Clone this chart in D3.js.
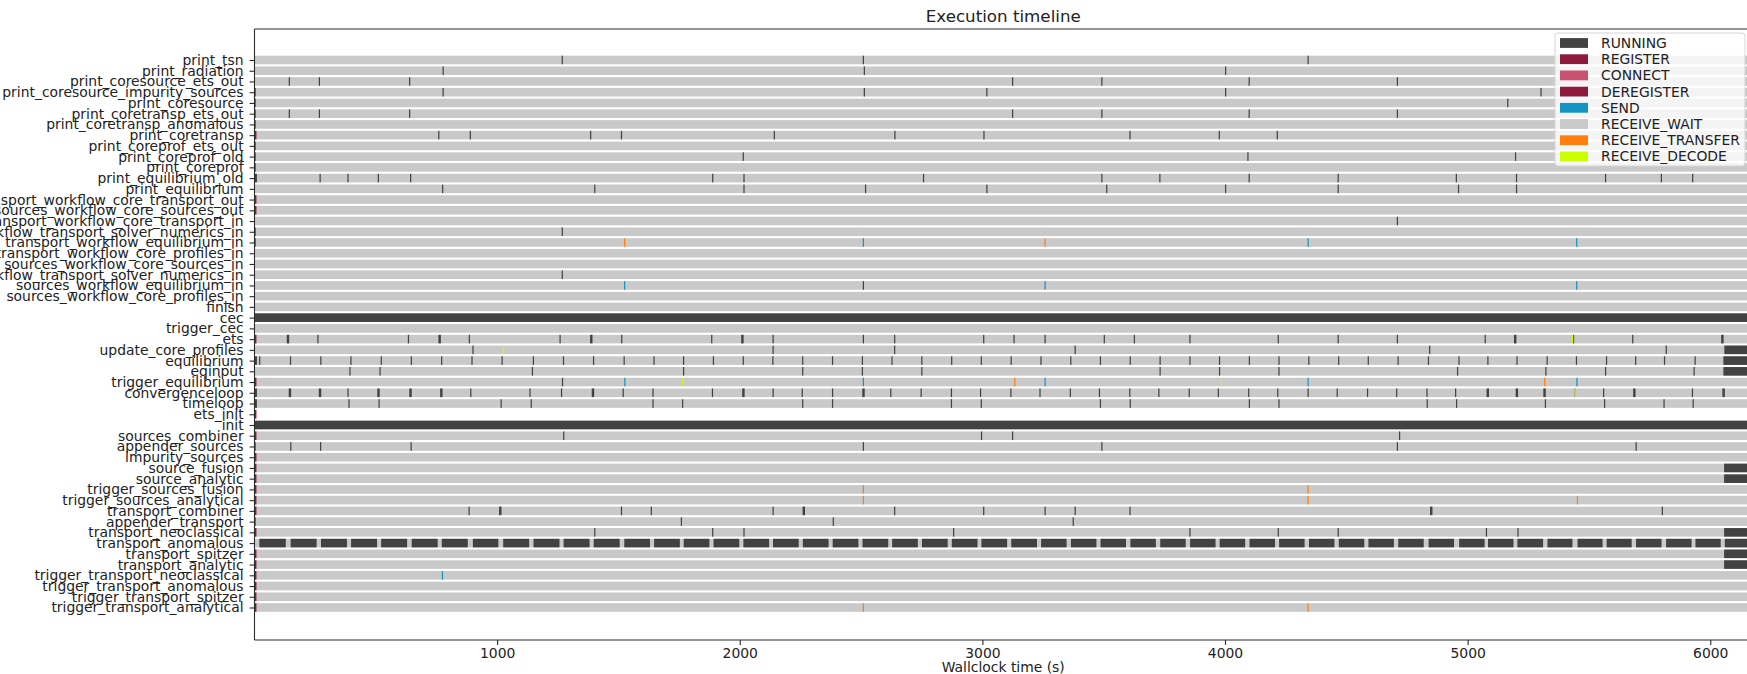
<!DOCTYPE html>
<html>
<head>
<meta charset="utf-8">
<script src="https://cdn.jsdelivr.net/npm/d3@7"></script>
<style>
  html, body { margin: 0; padding: 0; background: #fff; }
  svg { display: block; font-family: "DejaVu Sans", sans-serif; }
</style>
</head>
<body>
<svg id="chart" width="1747" height="674"></svg>
<script>
// ---- component rows, top to bottom ----
const rowNames = [
  "print_tsn", "print_radiation", "print_coresource_ets_out", "print_coresource_impurity_sources",
  "print_coresource", "print_coretransp_ets_out", "print_coretransp_anomalous", "print_coretransp",
  "print_coreprof_ets_out", "print_coreprof_old", "print_coreprof", "print_equilibrium_old",
  "print_equilibrium", "transport_workflow_core_transport_out", "sources_workflow_core_sources_out",
  "transport_workflow_core_transport_in", "transport_workflow_transport_solver_numerics_in",
  "transport_workflow_equilibrium_in", "transport_workflow_core_profiles_in",
  "sources_workflow_core_sources_in", "sources_workflow_transport_solver_numerics_in",
  "sources_workflow_equilibrium_in", "sources_workflow_core_profiles_in", "finish", "cec",
  "trigger_cec", "ets", "update_core_profiles", "equilibrium", "eqinput", "trigger_equilibrium",
  "convergenceloop", "timeloop", "ets_init", "init", "sources_combiner", "appender_sources",
  "impurity_sources", "source_fusion", "source_analytic", "trigger_sources_fusion",
  "trigger_sources_analytical", "transport_combiner", "appender_transport", "transport_neoclassical",
  "transport_anomalous", "transport_spitzer", "transport_analytic", "trigger_transport_neoclassical",
  "trigger_transport_anomalous", "trigger_transport_spitzer", "trigger_transport_analytical"
];

// ---- states and legend ----
const stateNames = ["RUNNING", "REGISTER", "CONNECT", "DEREGISTER", "SEND",
                    "RECEIVE_WAIT", "RECEIVE_TRANSFER", "RECEIVE_DECODE"];
const stateColors = ["#424242", "#8e1a3e", "#c9506f", "#8e1a3e", "#1394c2",
                     "#c9c9c9", "#ff7f0e", "#ccff00"];

const xTicks = [1000, 2000, 3000, 4000, 5000, 6000];
const xDomain = [0, 6172];

// time window covered by the log (s)
const logSpan = [0, 6180];
// rows with no waiting recorded
const idleRows = ["ets_init"];

// short RUNNING bursts: [row, start times (s)]
const pulseSeconds = 5;
const wideSeconds = 10;
const runningPulses = [
  ["print_tsn", [1266, 2507, 4340]],
  ["print_radiation", [775, 2511, 4000]],
  ["print_coresource_ets_out", [141, 265, 637, 3122, 3490, 4097, 4708]],
  ["print_coresource_impurity_sources", [0, 775, 2511, 3016, 4000, 5300]],
  ["print_coresource", [0, 5163]],
  ["print_coretransp_ets_out", [0, 141, 265, 637, 3122, 3490, 4097, 4708]],
  ["print_coretransp_anomalous", [0]],
  ["print_coretransp", [757, 887, 1383, 1510, 2140, 2637, 3004, 3606, 3974, 4213]],
  ["print_coreprof_ets_out", [0]],
  ["print_coreprof_old", [0, 2012, 4092, 5195]],
  ["print_coreprof", [0]],
  ["print_equilibrium_old", [268, 383, 508, 641, 1886, 2015, 2755, 3490, 3729, 4097, 4464, 4951, 5199, 5566, 5796, 5925]],
  ["print_equilibrium", [773, 1400, 2015, 2516, 3016, 3510, 4000, 4464, 4960, 5199]],
  ["transport_workflow_core_transport_in", [4708]],
  ["transport_workflow_transport_solver_numerics_in", [0, 1266]],
  ["transport_workflow_equilibrium_in", [0]],
  ["sources_workflow_transport_solver_numerics_in", [1266]],
  ["sources_workflow_equilibrium_in", [2507]],
  ["ets", [259, 632, 883, 1257, 1511, 1882, 2135, 2507, 2636, 3003, 3128, 3256, 3500, 3624, 3853, 4217, 4464, 4708, 5070, 5434, 5678]],
  ["update_core_profiles", [898, 2135, 2636, 3380, 4841, 5816]],
  ["equilibrium", [19, 146, 271, 395, 520, 644, 769, 894, 1018, 1147, 1271, 1395, 1521, 1644, 1766,
                   1889, 2012, 2134, 2257, 2380, 2503, 2625, 2748, 2871, 2993, 3116, 3239, 3362, 3484,
                   3607, 3730, 3853, 3975, 4098, 4220, 4343, 4466, 4588, 4711, 4836, 4962, 5081, 5201,
                   5325, 5446, 5570, 5690, 5809, 5935]],
  ["eqinput", [391, 515, 1143, 1766, 2257, 2503, 2748, 3730, 3975, 4220, 4956, 5320, 5566, 5931]],
  ["trigger_equilibrium", [1267]],
  ["convergenceloop", [383, 889, 1133, 1263, 1517, 1640, 1885, 2135, 2255, 2380, 2620, 2745, 2870,
                       2990, 3115, 3235, 3360, 3480, 3605, 3725, 3850, 3970, 4095, 4215, 4340, 4460,
                       4585, 4705, 4830, 4948, 5441, 5558, 5924]],
  ["timeloop", [387, 511, 1014, 1138, 1640, 1762, 2257, 2380, 2870, 2993, 3484, 3607, 4098, 4220,
                4831, 4952, 5318, 5562, 5807, 5927]],
  ["sources_combiner", [1272, 2994, 3122, 4717]],
  ["appender_sources", [0, 147, 270, 643, 2507, 3490, 4708, 5692]],
  ["transport_combiner", [882, 1510, 1633, 2135, 2636, 3003, 3256, 3380, 3606, 5800]],
  ["appender_transport", [0, 1757, 2383, 3372]],
  ["transport_neoclassical", [1400, 1886, 2015, 2879, 3853, 4217, 4464, 5075, 5205]]
];
// wider RUNNING bursts: [row, start times (s)]
const runningWide = [
  ["print_equilibrium_old", [0]],
  ["ets", [133, 758, 1383, 2006, 5191, 6045]],
  ["equilibrium", [0]],
  ["convergenceloop", [0, 141, 265, 506, 638, 765, 1390, 2010, 2505, 5078, 5198, 5312, 5682, 6050]],
  ["timeloop", [0]],
  ["transport_combiner", [1008, 2259, 4845]]
];
// long RUNNING spans: [row, start, end] (s)
const runningSpans = [
  ["cec", 0, 6180],
  ["init", 0, 6180],
  ["update_core_profiles", 6058, 6180],
  ["equilibrium", 6054, 6180],
  ["eqinput", 6054, 6180],
  ["source_fusion", 6057, 6180],
  ["source_analytic", 6057, 6180],
  ["transport_neoclassical", 6057, 6180],
  ["transport_spitzer", 6057, 6180],
  ["transport_analytic", 6057, 6180]
];
// transport_anomalous work blocks: [start, end] (s)
const anomalousBlocks = [
  [20, 129], [149, 256], [274, 381], [398, 505], [522, 629], [648, 755], [772, 879], [900, 1005],
  [1025, 1132], [1150, 1257], [1274, 1381], [1398, 1505], [1524, 1630], [1647, 1753], [1769, 1875],
  [1892, 1998], [2015, 2121], [2137, 2243], [2260, 2366], [2383, 2489], [2506, 2612], [2628, 2734],
  [2751, 2857], [2874, 2980], [2996, 3102], [3119, 3225], [3242, 3347], [3365, 3470], [3487, 3592],
  [3610, 3715], [3733, 3838], [3856, 3961], [3978, 4083], [4101, 4206], [4223, 4328], [4346, 4451],
  [4469, 4574], [4591, 4696], [4714, 4819], [4839, 4944], [4965, 5070], [5084, 5189], [5205, 5311],
  [5329, 5432], [5453, 5556], [5573, 5676], [5694, 5799], [5818, 5923], [5939, 6043], [6060, 6180]
];

// rows that register at start-up
const registerRows = [
  "print_coretransp", "transport_workflow_core_transport_out", "sources_workflow_core_sources_out",
  "ets", "trigger_equilibrium", "ets_init", "sources_combiner", "impurity_sources", "source_fusion",
  "source_analytic", "trigger_sources_fusion", "trigger_sources_analytical", "transport_combiner",
  "transport_neoclassical", "transport_spitzer", "transport_analytic", "trigger_transport_neoclassical",
  "trigger_transport_anomalous", "trigger_transport_spitzer", "trigger_transport_analytical"
];
const registerSeconds = [1, 8];

// message events: [row, times (s)]
const sendEvents = [
  ["transport_workflow_equilibrium_in", [2507, 4340, 5447]],
  ["sources_workflow_equilibrium_in", [1523, 3256, 5447]],
  ["trigger_equilibrium", [1524, 2507, 3256, 4340, 5448]],
  ["trigger_transport_neoclassical", [772]]
];
const transferEvents = [
  ["transport_workflow_equilibrium_in", [1523, 3256]],
  ["trigger_equilibrium", [3131, 5315]],
  ["trigger_sources_fusion", [2507, 4340]],
  ["trigger_sources_analytical", [2507, 4340, 5450]],
  ["trigger_transport_analytical", [2507, 4340]]
];
const decodeEvents = [
  ["ets", [5430]],
  ["update_core_profiles", [1023]],
  ["trigger_equilibrium", [1763, 3983]],
  ["convergenceloop", [5441]]
];

// ---- layout ----
const svg = d3.select("#chart");
const plot = { left: 254.5, right: 1752, top: 29, bottom: 640 };
const x = d3.scaleLinear().domain(xDomain).range([plot.left, plot.right]);
const y = d3.scalePoint().domain(rowNames).range([60, 607.5]);
const barH = y.step() * 0.8;
const color = d3.scaleOrdinal().domain(stateNames).range(stateColors);

const marks = svg.append("g");

function addRects(cls, fill, items) {
  marks.append("g").attr("class", cls).selectAll("rect").data(items).join("rect")
    .attr("x", d => x(d.start))
    .attr("y", d => y(d.row) - barH / 2)
    .attr("width", d => Math.max(1.2, x(d.end) - x(d.start)))
    .attr("height", barH)
    .attr("fill", fill);
}
function expand(list, dur) {
  return list.flatMap(([row, times]) => times.map(t => ({ row, start: t, end: t + dur })));
}

// waiting background for each component
addRects("wait", color("RECEIVE_WAIT"),
  rowNames.filter(r => !idleRows.includes(r)).map(row => ({ row, start: logSpan[0], end: logSpan[1] })));

// running work
addRects("running-span", color("RUNNING"),
  runningSpans.map(([row, s, e]) => ({ row, start: s, end: e })));
addRects("running-blocks", color("RUNNING"),
  anomalousBlocks.map(([s, e]) => ({ row: "transport_anomalous", start: s, end: e })));
addRects("running-pulse", color("RUNNING"), expand(runningPulses, pulseSeconds));
addRects("running-wide", color("RUNNING"), expand(runningWide, wideSeconds));

// messaging
addRects("send", color("SEND"), expand(sendEvents, pulseSeconds));
addRects("transfer", color("RECEIVE_TRANSFER"), expand(transferEvents, pulseSeconds));
addRects("decode", color("RECEIVE_DECODE"), expand(decodeEvents, pulseSeconds));
addRects("register", color("REGISTER"),
  registerRows.map(row => ({ row, start: registerSeconds[0], end: registerSeconds[1] })));

// ---- axes ----
const axisColor = "#2b2b2b";
const xAxis = svg.append("g")
  .attr("transform", `translate(0,${plot.bottom})`)
  .call(d3.axisBottom(x).tickValues(xTicks).tickFormat(d3.format("d")).tickSize(4.9).tickSizeOuter(0).tickPadding(3.5));
const yAxis = svg.append("g")
  .attr("transform", `translate(${plot.left},0)`)
  .call(d3.axisLeft(y).tickSize(4.9).tickSizeOuter(0).tickPadding(6));
yAxis.select(".domain").attr("d", `M0,${plot.top}V${plot.bottom}`);

[xAxis, yAxis].forEach(a => {
  a.select(".domain").attr("stroke", axisColor).attr("stroke-width", 1.1);
  a.selectAll(".tick line").attr("stroke", axisColor).attr("stroke-width", 1.1);
  a.selectAll(".tick text").attr("fill", "#222").attr("font-size", 13.9)
    .attr("font-family", "DejaVu Sans, sans-serif");
});
xAxis.select(".domain").attr("d", `M${plot.left},0H${plot.right}`);

// top frame line
svg.append("line")
  .attr("x1", plot.left).attr("x2", plot.right)
  .attr("y1", plot.top).attr("y2", plot.top)
  .attr("stroke", axisColor).attr("stroke-width", 1.1);

// ---- title and axis label ----
svg.append("text")
  .attr("x", (plot.left + plot.right) / 2).attr("y", 22)
  .attr("text-anchor", "middle").attr("font-size", 16.7).attr("fill", "#222")
  .text("Execution timeline");
svg.append("text")
  .attr("x", (plot.left + plot.right) / 2).attr("y", 672)
  .attr("text-anchor", "middle").attr("font-size", 13.9).attr("fill", "#222")
  .text("Wallclock time (s)");

// ---- legend ----
const legend = svg.append("g").attr("transform", "translate(1555,33)");
legend.append("rect")
  .attr("width", 190).attr("height", 133).attr("rx", 3)
  .attr("fill", "#fff").attr("fill-opacity", 0.8)
  .attr("stroke", "#d6d6d6").attr("stroke-width", 1);
const items = legend.selectAll("g.item").data(stateNames).join("g")
  .attr("class", "item")
  .attr("transform", (d, i) => `translate(5,${10 + i * 16.2})`);
items.append("rect")
  .attr("x", 0).attr("y", -4.9).attr("width", 28).attr("height", 9.8)
  .attr("fill", d => color(d));
items.append("text")
  .attr("x", 41).attr("y", 0).attr("dy", "0.36em")
  .attr("font-size", 13.9).attr("fill", "#222")
  .text(d => d);
</script>
</body>
</html>
